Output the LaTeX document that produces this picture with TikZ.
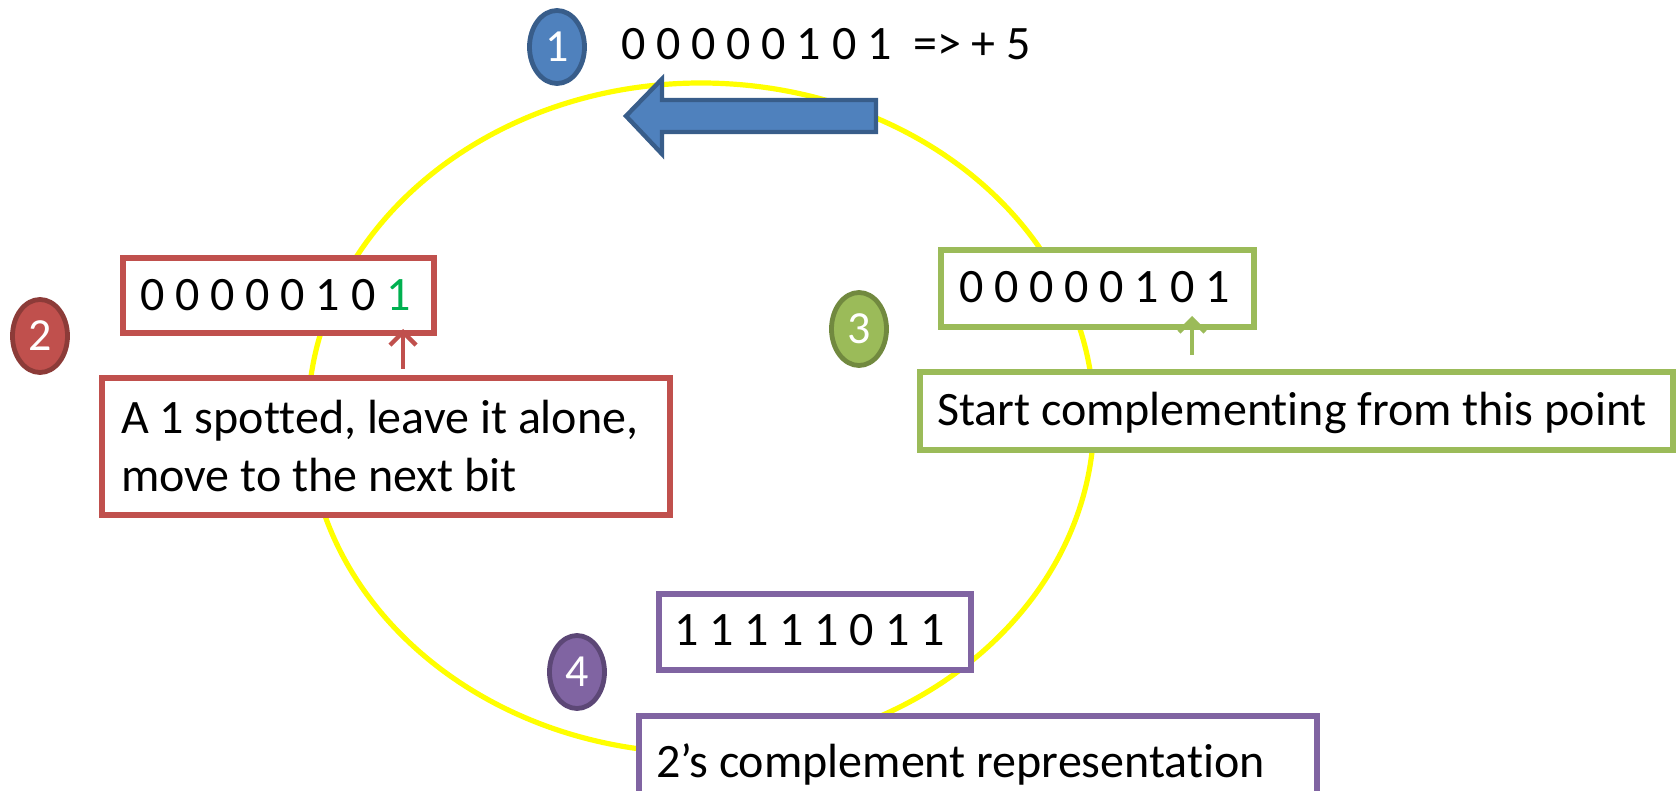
\documentclass[tikz,border=0pt]{standalone}
\usepackage{fontspec}
\setmainfont{Carlito}[Ligatures=NoCommon]
\usetikzlibrary{shapes.geometric,arrows.meta,fit}

\definecolor{ringyellow}{HTML}{FFFF00}
\definecolor{blueF}{HTML}{4F81BD}
\definecolor{blueD}{HTML}{385D8A}
\definecolor{redF}{HTML}{C0504D}
\definecolor{redD}{HTML}{8C3B38}
\definecolor{greenF}{HTML}{9BBB59}
\definecolor{greenD}{HTML}{71893F}
\definecolor{purpleF}{HTML}{8064A2}
\definecolor{purpleD}{HTML}{5C4776}
\definecolor{bitgreen}{HTML}{00B050}

\begin{document}
\begin{tikzpicture}[x=0.5pt,y=-0.5pt,
  every node/.style={inner sep=0pt,outer sep=0pt},
  txt/.style={anchor=base west,font=\fontsize{24}{29}\selectfont},
  frame/.style={draw=#1,line width=2.8pt,fill=white,inner sep=0pt},
  badge/.style n args={2}{ellipse,fill=#1,draw=#2,line width=2.4pt,
    minimum width=27.5pt,minimum height=36.5pt,text=white,
    font=\fontsize{23}{23}\selectfont},
  pointer/.style={draw=#1,line width=2.2pt,
    -{Straight Barb[length=6.5pt,width=13pt,line width=2.2pt]}}
]
\path[use as bounding box] (0,0) rectangle (1677,791);
\clip (0,0) rectangle (1677,791);

% the cycle
\draw[ringyellow,line width=2.6pt] (701,418) ellipse [x radius=393,y radius=335];

% step 1: the positive number
\node[badge={blueF}{blueD}] (c1) at (557,47) {1};
\node[txt] (t1) at (621,60) {0 0 0 0 0 1 0 1\ \ => + 5};
\draw[fill=blueF,draw=blueD,line width=2.2pt,line join=miter]
  (626,116) -- (662,79) -- (662,100) -- (876,100) -- (876,132)
  -- (662,132) -- (662,154) -- cycle;

% step 2: scan from the right until the first 1
\node[badge={redF}{redD}] (c2) at (40,336) {2};
\node[frame=redF,fit={(123,258) (434,333)}] (b2) {};
\node[txt] (b2t) at (140,311) {0 0 0 0 0 1 0 \textcolor{bitgreen}{1}};
\node[frame=redF,fit={(102,378) (670,515)}] (l2) {};
\node[txt] (l2t) at (121,433) {\begin{tabular}[t]{@{}l@{}}A 1 spotted, leave it alone,\\move to the next bit\end{tabular}};
\coordinate (x2) at (403,0);
\draw[pointer=redF,shorten <=4.5pt,shorten >=-2pt] (l2.north -| x2) -- (b2.south -| x2);

% step 3: invert the remaining bits
\node[badge={greenF}{greenD}] (c3) at (859,329) {3};
\node[frame=greenF,fit={(941,250) (1254,327)}] (b3) {};
\node[txt] (b3t) at (959,303) {0 0 0 0 0 1 0 1};
\node[frame=greenF,fit={(920,372) (1673,450)}] (l3) {};
\node[txt] (l3t) at (937,425) {Start complementing from this point};
\coordinate (x3) at (1192,0);
\draw[pointer=greenF,shorten <=8.5pt,shorten >=-5.5pt] (l3.north -| x3) -- (b3.south -| x3);

% step 4: the result
\node[badge={purpleF}{purpleD}] (c4) at (577,672) {4};
\node[frame=purpleF,fit={(659,594) (971,670)}] (b4) {};
\node[txt] (b4t) at (674,645) {1 1 1 1 1 0 1 1};
\node[frame=purpleF,fit={(639,716) (1317,810)}] (l4) {};
\node[txt] (l4t) at (656,777) {2’s complement representation};
\end{tikzpicture}
\end{document}
